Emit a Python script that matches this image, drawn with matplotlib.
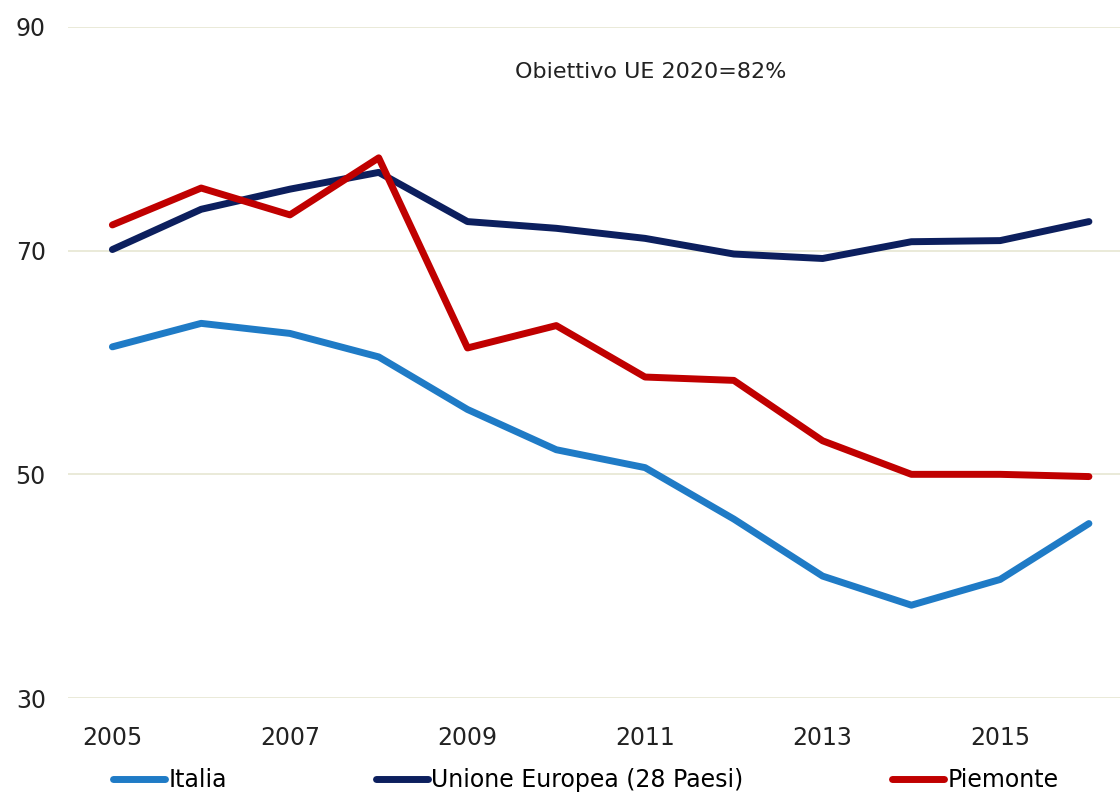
import matplotlib.pyplot as plt

plt.rcParams['font.family'] = ['DejaVu Sans']

anni = [2005, 2006, 2007, 2008, 2009, 2010, 2011, 2012, 2013, 2014, 2015, 2016]
italia = [61.4, 63.5, 62.6, 60.5, 55.8, 52.2, 50.6, 46.0, 40.9, 38.3, 40.6, 45.6]
ue28 = [70.1, 73.7, 75.5, 77.0, 72.6, 72.0, 71.1, 69.7, 69.3, 70.8, 70.9, 72.6]
piemonte = [72.3, 75.6, 73.2, 78.3, 61.3, 63.3, 58.7, 58.4, 53.0, 50.0, 50.0, 49.8]

fig = plt.figure(figsize=(11.2, 7.96), dpi=100)
ax = fig.add_axes([68 / 1120, 1 - 698 / 796, 1 - 68 / 1120, (698 - 27) / 796])

ax.plot(anni, italia, color="#1f7bc6", lw=5, label="Italia", solid_capstyle="round")
ax.plot(anni, ue28, color="#0c1f5e", lw=5, label="Unione Europea (28 Paesi)", solid_capstyle="round")
ax.plot(anni, piemonte, color="#c00000", lw=5, label="Piemonte", solid_capstyle="round")

ax.set_xlim(2004.5, 2016.35)
ax.set_ylim(30, 90)
ax.set_yticks([30, 50, 70, 90])
ax.set_xticks([2005, 2007, 2009, 2011, 2013, 2015])
ax.grid(axis="y", color="#e6e6d2", lw=1.2)
ax.set_axisbelow(True)
for s in ax.spines.values():
    s.set_visible(False)
ax.tick_params(length=0, labelsize=17, colors="#222222")
ax.tick_params(axis="x", pad=20)
ax.tick_params(axis="y", pad=16)

ax.text(2011.06, 86.0, "Obiettivo UE 2020=82%", fontsize=16, color="#222222", ha="center", va="center")

fig.legend(loc="center", bbox_to_anchor=(0.523, 1 - 780 / 796), ncol=3, frameon=False,
           fontsize=17, handlelength=2.2, handletextpad=0.15, columnspacing=6.3)

plt.savefig("out.png", dpi=100)
